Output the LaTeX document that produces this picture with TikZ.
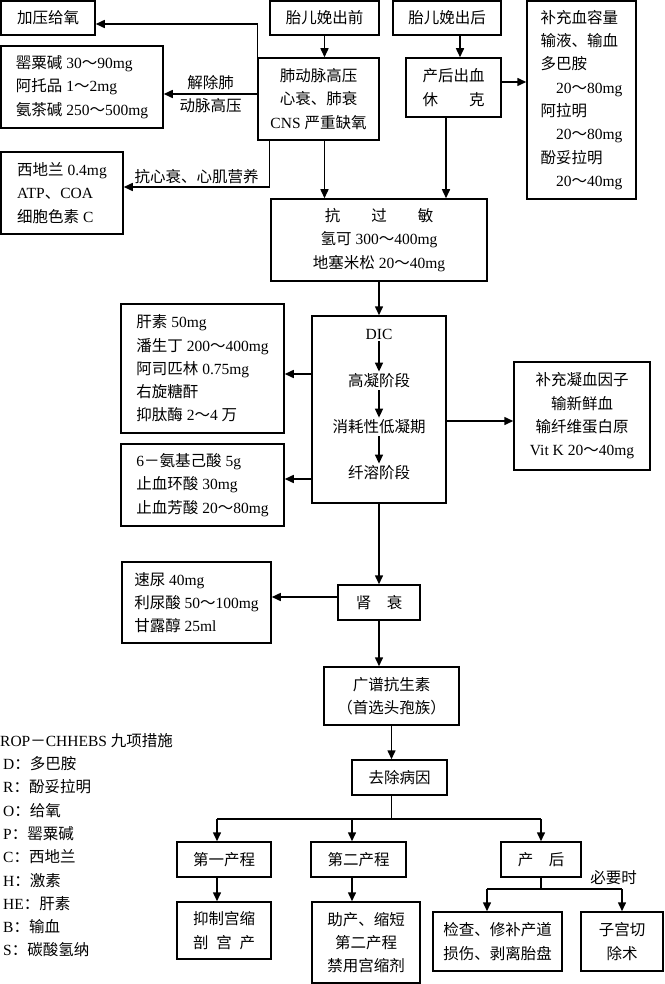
\documentclass[tikz,border=0pt]{standalone}
\usepackage{fontspec}
\setmainfont{Liberation Serif}
\newfontfamily\latinfont{Liberation Serif}
\newfontfamily\cjkfont{Noto Sans CJK SC}
\usetikzlibrary{arrows.meta}

% CJK characters switch to the CJK font by themselves
\XeTeXinterchartokenstate=1
\newXeTeXintercharclass\cjkclass
\newcount\cjkcode
\cjkcode="3000
\loop
  \XeTeXcharclass\cjkcode=\cjkclass
  \advance\cjkcode by 1
\ifnum\cjkcode<"A000 \repeat
\cjkcode="FF00
\loop
  \XeTeXcharclass\cjkcode=\cjkclass
  \advance\cjkcode by 1
\ifnum\cjkcode<"FFF0 \repeat
\XeTeXinterchartoks 0 \cjkclass = {\cjkfont}
\XeTeXinterchartoks 4095 \cjkclass = {\cjkfont}
\XeTeXinterchartoks \cjkclass 0 = {\latinfont}
\XeTeXinterchartoks \cjkclass 4095 = {\latinfont}

\begin{document}
\begin{tikzpicture}[x=1pt, y=-1pt,
    txt/.style={font=\fontsize{15.5pt}{23.3pt}\selectfont},
    box/.style={txt, draw, line width=1.5pt, inner sep=0pt, align=center},
    lbl/.style={txt, inner sep=2pt},
    arr/.style={-{Triangle[length=9pt,width=8pt]}, line width=1.5pt}]
    \useasboundingbox (0,0) rectangle (664,984);

    % top row
    \node[box, minimum width=94, minimum height=34] (jiaya) at (48,18) {加压给氧};
    \node[box, minimum width=109, minimum height=34] (qian) at (324.5,18) {胎儿娩出前};
    \node[box, minimum width=108, minimum height=34] (hou) at (447,18) {胎儿娩出后};
    \node[box, align=left, minimum width=109, minimum height=198] (bu) at (581.5,100)
        {补充血容量\\输液、输血\\多巴胺\\　20～80mg\\阿拉明\\　20～80mg\\酚妥拉明\\　20～40mg};

    \node[box, align=left, minimum width=162, minimum height=82] (ying) at (82,87)
        {罂粟碱 30～90mg\\阿托品 1～2mg\\氨茶碱 250～500mg};
    \node[box, minimum width=121, minimum height=82] (fei) at (318.5,99)
        {肺动脉高压\\心衰、肺衰\\CNS 严重缺氧};
    \node[box, align=left, minimum width=95, minimum height=59] (chan) at (453.5,87.5)
        {产后出血\\休　　克};
    \node[box, align=left, minimum width=122, minimum height=82] (xidi) at (62,193)
        {西地兰 0.4mg\\ATP、COA\\细胞色素 C};
    \node[box, minimum width=216, minimum height=82] (kang) at (379,240)
        {抗　　过　　敏\\氢可 300～400mg\\地塞米松 20～40mg};

    % DIC
    \node[box, align=left, minimum width=163, minimum height=129] (gan) at (202.5,368.5)
        {肝素 50mg\\潘生丁 200～400mg\\阿司匹林 0.75mg\\右旋糖酐\\抑肽酶 2～4 万};
    \node[box, minimum width=134, minimum height=187] (dicbox) at (379,409.5) {};
    \node[lbl] (diclbl) at (379,334) {DIC};
    \node[lbl] (gaoning) at (379,381) {高凝阶段};
    \node[lbl] (xiaohao) at (379,427) {消耗性低凝期};
    \node[lbl] (xianrong) at (379,473) {纤溶阶段};
    \node[box, align=left, minimum width=163, minimum height=82] (anji) at (202.5,485)
        {6－氨基己酸 5g\\止血环酸 30mg\\止血芳酸 20～80mg};
    \node[box, minimum width=136, minimum height=108] (ning) at (582,416)
        {补充凝血因子\\输新鲜血\\输纤维蛋白原\\Vit K 20～40mg};

    % kidney, antibiotics
    \node[box, align=left, minimum width=149, minimum height=81] (suniao) at (196.5,602.5)
        {速尿 40mg\\利尿酸 50～100mg\\甘露醇 25ml};
    \node[box, minimum width=82, minimum height=35] (shen) at (379,602.5) {肾　衰};
    \node[box, minimum width=135, minimum height=58] (guang) at (391.5,696)
        {广谱抗生素\\（首选头孢族）};
    \node[box, minimum width=95, minimum height=35] (qu) at (399.5,777.5) {去除病因};

    % bottom
    \node[box, minimum width=94, minimum height=35] (di1) at (224,859.5) {第一产程};
    \node[box, minimum width=95, minimum height=35] (di2) at (358.5,859.5) {第二产程};
    \node[box, minimum width=80, minimum height=35] (chanhou) at (541,859.5) {产　后};
    \node[box, minimum width=94, minimum height=57] (yizhi) at (224,930.5)
        {抑制宫缩\\剖\enspace 宫\enspace 产};
    \node[box, minimum width=108, minimum height=81] (zhuchan) at (366,942.5)
        {助产、缩短\\第二产程\\禁用宫缩剂};
    \node[box, minimum width=129, minimum height=59] (jiancha) at (497.5,941.5)
        {检查、修补产道\\损伤、剥离胎盘};
    \node[box, minimum width=82, minimum height=59] (zigong) at (622,941.5) {子宫切\\除术};
    \node[lbl] (biyao) at (613.5,878) {必要时};

    \node[lbl, align=left, anchor=north west, inner sep=0pt] (legend) at (0,733)
        {ROP－CHHEBS 九项措施\\\hspace*{3pt}D：多巴胺\\\hspace*{3pt}R：酚妥拉明\\\hspace*{3pt}O：给氧\\\hspace*{3pt}P：罂粟碱\\\hspace*{3pt}C：西地兰\\\hspace*{3pt}H：激素\\\hspace*{3pt}HE：肝素\\\hspace*{3pt}B：输血\\\hspace*{3pt}S：碳酸氢纳};

    \coordinate (b1) at (217,819);
    \coordinate (b2) at (352,819);
    \coordinate (b3) at (541,819);
    \coordinate (f1) at (487,889);
    \coordinate (f2) at (622,889);

    % connectors
    \draw[arr] (qian.south) -- (qian.south |- fei.north);
    \draw[arr] (fei.north west) |- ([yshift=-6pt]jiaya.east);
    \draw[arr] ([yshift=5pt]fei.west) -- ([yshift=-7pt]ying.east)
        node[lbl, midway, align=center] {解除肺\\动脉高压};
    \draw[arr] ([xshift=12pt]fei.south west) |- ([yshift=6pt]xidi.east)
        node[lbl, pos=0.75, above] {抗心衰、心肌营养};
    \draw[arr] (qian.south |- fei.south) -- (qian.south |- kang.north);
    \draw[arr] ([xshift=13pt]hou.south) -- ([xshift=6.5pt]chan.north);
    \draw[arr] ([yshift=5.5pt]chan.east) -- ([yshift=18pt]bu.west);
    \draw[arr] ([xshift=-7.5pt]chan.south) -- ([xshift=67pt]kang.north);
    \draw[arr] (kang.south) -- (dicbox.north);
    \draw[arr] (diclbl) -- (gaoning);
    \draw[arr] (gaoning) -- (xiaohao);
    \draw[arr] (xiaohao) -- (xianrong);
    \draw[arr] ([yshift=35.5pt]dicbox.west) -- ([yshift=-5.5pt]gan.east);
    \draw[arr] ([yshift=-69.5pt]dicbox.west) -- ([yshift=6pt]anji.east);
    \draw[arr] ([yshift=-11.5pt]dicbox.east) -- ([yshift=-5pt]ning.west);
    \draw[arr] (dicbox.south) -- (shen.north);
    \draw[arr] ([yshift=5.5pt]shen.west) -- ([yshift=5.5pt]suniao.east);
    \draw[arr] (shen.south) -- ([xshift=-12.5pt]guang.north);
    \draw[arr] (guang.south) -- ([xshift=-8pt]qu.north);
    \draw[line width=1.5pt] ([xshift=-8pt]qu.south) |- (b1);
    \draw[line width=1.5pt] (b1) -- (b3);
    \draw[arr] (b1) -- ([xshift=-7pt]di1.north);
    \draw[arr] (b2) -- ([xshift=-6.5pt]di2.north);
    \draw[arr] (b3) -- (chanhou.north);
    \draw[arr] ([xshift=-7pt]di1.south) -- ([xshift=-7pt]yizhi.north);
    \draw[arr] ([xshift=-6.5pt]di2.south) -- ([xshift=-14pt]zhuchan.north);
    \draw[line width=1.5pt] (chanhou.south) -- (chanhou.south |- f1);
    \draw[line width=1.5pt] (f1) -- (f2);
    \draw[arr] (f1) -- ([xshift=-10.5pt]jiancha.north);
    \draw[arr] (f2) -- (zigong.north);
\end{tikzpicture}
\end{document}
